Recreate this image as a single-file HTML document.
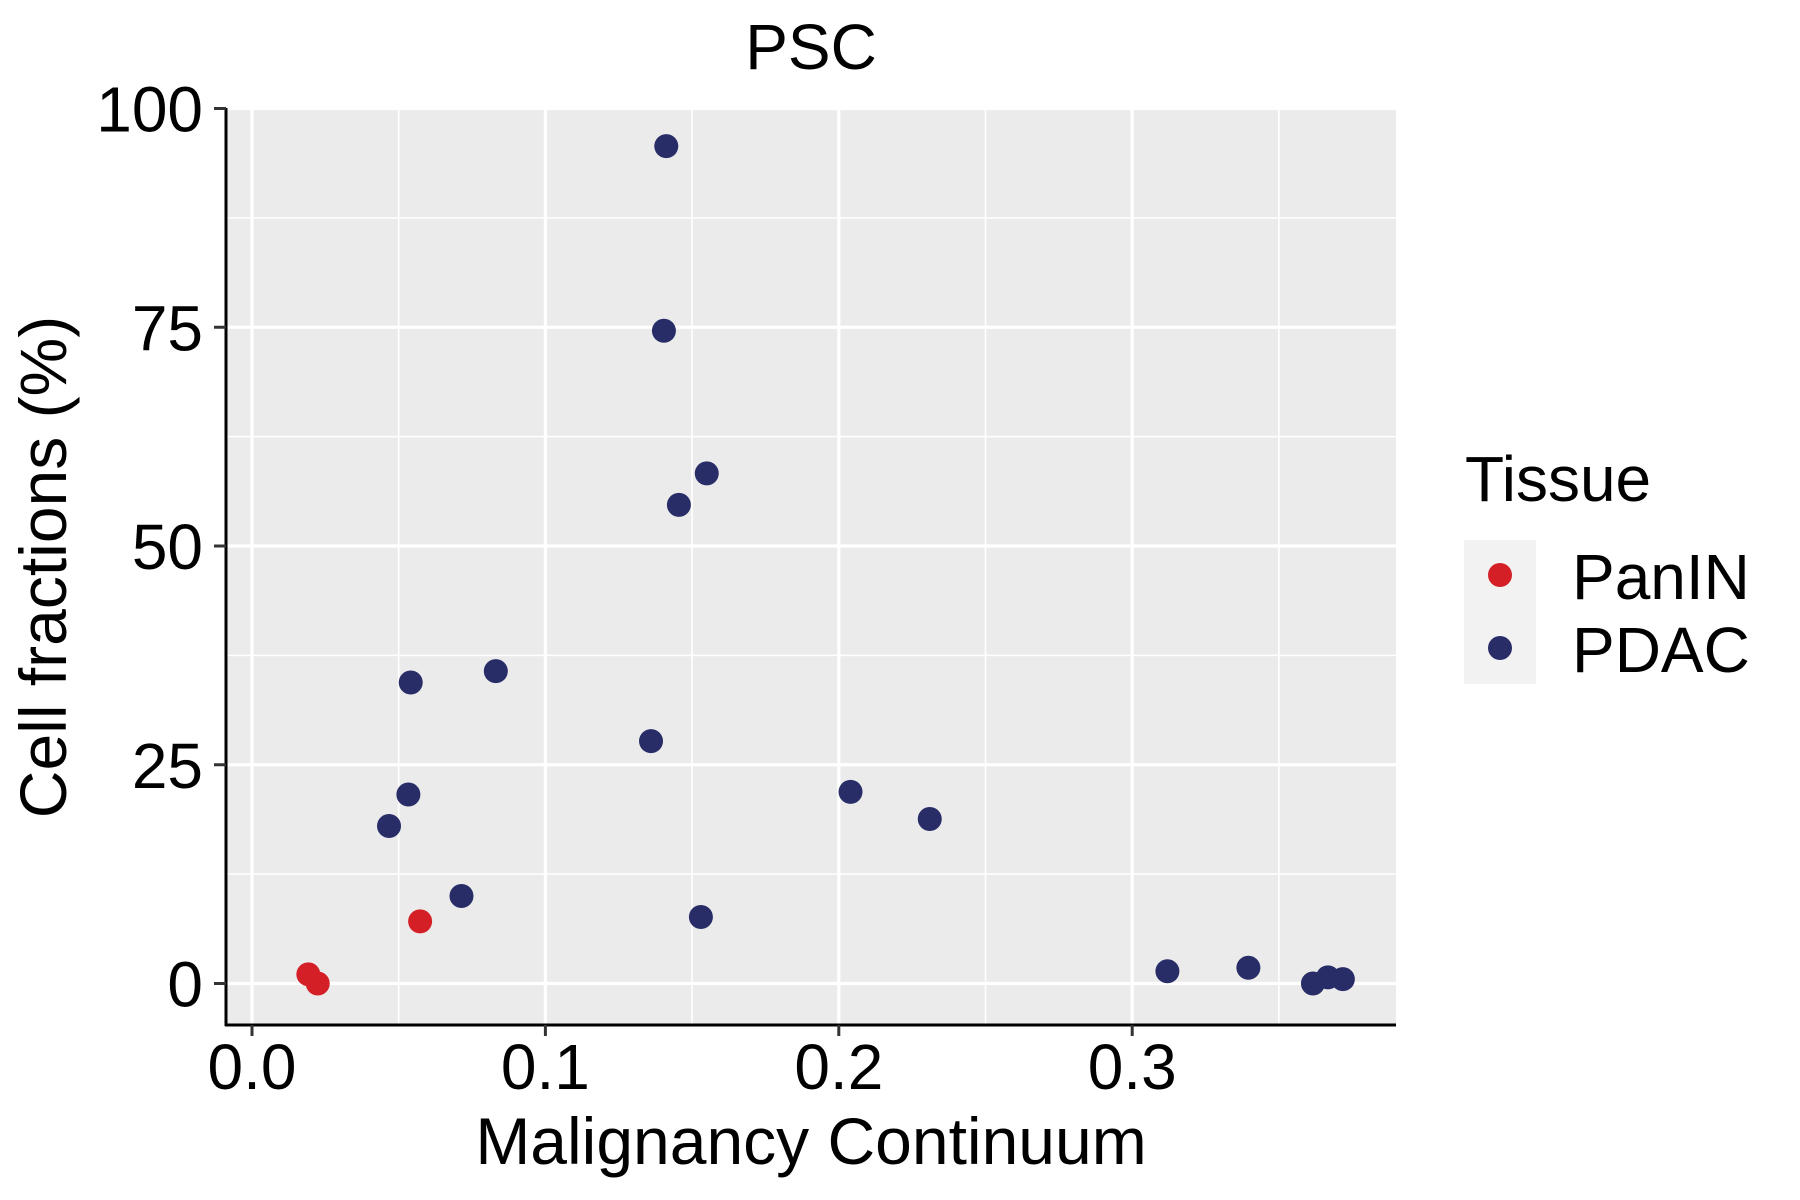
<!DOCTYPE html>
<html><head><meta charset="utf-8"><style>
body{margin:0;background:#fff}
svg{display:block;font-family:"Liberation Sans",Arial,sans-serif}
</style></head><body>
<svg id="chart" width="1800" height="1200" viewBox="0 0 1800 1200">
<rect x="0" y="0" width="1800" height="1200" fill="#fff"/>
<rect x="226" y="110" width="1170" height="915" fill="#ebebeb"/>
<g id="grid"></g>
<g id="points"></g>
<line x1="226" y1="108" x2="226" y2="1026" stroke="#000" stroke-width="3"/>
<line x1="225" y1="1025" x2="1396" y2="1025" stroke="#000" stroke-width="3"/>
<g id="ticks"></g>
<text x="811" y="69" font-size="64" text-anchor="middle">PSC</text>
<text x="811" y="1164" font-size="66" text-anchor="middle">Malignancy Continuum</text>
<text transform="translate(66,567) rotate(-90)" font-size="66" text-anchor="middle">Cell fractions (%)</text>
<g>
<text x="1465" y="501" font-size="64">Tissue</text>
<rect x="1464" y="540" width="72" height="144" fill="#f2f2f2"/>
<circle cx="1500" cy="575" r="12" fill="#d51f27"/>
<circle cx="1500" cy="648" r="12" fill="#282d68"/>
<text x="1572" y="599" font-size="64">PanIN</text>
<text x="1572" y="672" font-size="64">PDAC</text>
</g>
</svg>
<script>
const xTicks = [0, 0.1, 0.2, 0.3];
const xTickLabels = ["0.0", "0.1", "0.2", "0.3"];
const xMinor = [0.05, 0.15, 0.25, 0.35];
const yTicks = [0, 25, 50, 75, 100];
const yTickLabels = ["0", "25", "50", "75", "100"];
const yMinor = [12.5, 37.5, 62.5, 87.5];
const paninX = [0.0192, 0.0224, 0.0573];
const paninY = [1.05, 0, 7.1];
const pdacX = [0.1412, 0.1404, 0.155, 0.1455, 0.0541, 0.0831, 0.136, 0.0533, 0.0467, 0.0714, 0.153, 0.204, 0.231, 0.312, 0.3396, 0.3616, 0.3667, 0.3718];
const pdacY = [95.7, 74.6, 58.3, 54.7, 34.4, 35.7, 27.7, 21.6, 18.0, 10.0, 7.6, 21.9, 18.8, 1.4, 1.8, 0, 0.7, 0.5];

const NS = "http://www.w3.org/2000/svg";
function xs(v){ return 252 + v * 2934; }
function ys(v){ return 983.5 - v * 8.75; }
function mk(tag, attrs, parent){
  const e = document.createElementNS(NS, tag);
  for (const k in attrs) e.setAttribute(k, attrs[k]);
  parent.appendChild(e);
  return e;
}
const grid = document.getElementById('grid');
const ticks = document.getElementById('ticks');
const pts = document.getElementById('points');
xMinor.forEach(v => {
  const l = mk('line', {x1: xs(v), x2: xs(v), y1: 110, y2: 1025, stroke: '#fff', 'stroke-width': 1.6}, grid);
  
  
});
yMinor.forEach(v => {
  const l = mk('line', {x1: 226, x2: 1396, y1: ys(v), y2: ys(v), stroke: '#fff', 'stroke-width': 1.6}, grid);
  
  
});
xTicks.forEach((v, i) => {
  const l = mk('line', {x1: xs(v), x2: xs(v), y1: 110, y2: 1025, stroke: '#fff', 'stroke-width': 3.2}, grid);
  
  
  const t = mk('line', {x1: xs(v), x2: xs(v), y1: 1025, y2: 1036, stroke: '#333', 'stroke-width': 3}, ticks);
  
  
  const tx = mk('text', {x: xs(v), y: 1089, 'font-size': 64, 'text-anchor': 'middle', fill: '#000'}, ticks);
  tx.textContent = xTickLabels[i];
  
  
});
yTicks.forEach((v, i) => {
  const l = mk('line', {x1: 226, x2: 1396, y1: ys(v), y2: ys(v), stroke: '#fff', 'stroke-width': 3.2}, grid);
  
  
  const t = mk('line', {x1: 214, x2: 226, y1: ys(v), y2: ys(v), stroke: '#333', 'stroke-width': 3}, ticks);
  
  
  const tx = mk('text', {x: 203, y: ys(v) + 23, 'font-size': 64, 'text-anchor': 'end', fill: '#000'}, ticks);
  tx.textContent = yTickLabels[i];
  
  
});
paninX.forEach((v, i) => {
  const c = mk('circle', {cx: xs(v), cy: ys(paninY[i]), r: 12, fill: '#d51f27'}, pts);
  
  
});
pdacX.forEach((v, i) => {
  const c = mk('circle', {cx: xs(v), cy: ys(pdacY[i]), r: 12, fill: '#282d68'}, pts);
  
  
});
</script>
</body></html>
